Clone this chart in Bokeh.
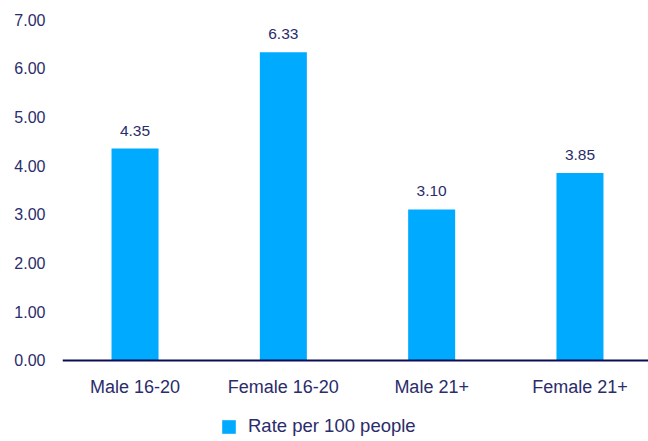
from bokeh.plotting import figure
from bokeh.models import (ColumnDataSource, Range1d, FixedTicker, Legend,
                          LegendItem, LabelSet, Span, CustomJSTickFormatter)
from bokeh.core.properties import value
from bokeh.embed import file_html
from bokeh.resources import INLINE

# Data
categories = ["Male 16-20", "Female 16-20", "Male 21+", "Female 21+"]
rates = [4.35, 6.33, 3.10, 3.85]
y_ticks = [0, 1, 2, 3, 4, 5, 6, 7]
series_name = "Rate per 100 people"

TEXT = "#2b2c6b"
BAR = "#00aaff"
AXIS = "#0c0c55"
FONT = "Liberation Sans"

positions = list(range(len(categories)))
source = ColumnDataSource(dict(
    x=positions,
    top=rates,
    zero=[0] * len(rates),
    label=[f"{v:.2f}" for v in rates],
    cat=categories,
))

# The frame runs down to the bottom edge so the category names and the
# legend can sit below the zero line inside it.
p = figure(
    width=648, height=441,
    output_backend="svg", toolbar_location=None,
    x_range=Range1d(-0.489, 3.462), y_range=Range1d(-1.663, 7),
    min_border_left=62, min_border_right=0,
    min_border_top=19, min_border_bottom=0,
)
p.outline_line_color = None
p.background_fill_color = "white"
p.border_fill_color = "white"
p.grid.visible = False
p.xaxis.visible = False

bars = p.vbar(x="x", top="top", bottom=0, width=0.317, source=source,
              fill_color=BAR, line_color=None)

# zero line
p.add_layout(Span(location=0, dimension="width", line_color=AXIS,
                  line_width=2))

# value labels above the bars
p.add_layout(LabelSet(x="x", y="top", text="label", source=source,
                      text_align="center", text_baseline="middle",
                      y_offset=18, text_font=value(FONT),
                      text_font_size=value("15.5px"), text_color=TEXT))

# category names under the zero line
p.add_layout(LabelSet(x="x", y="zero", text="cat", source=source,
                      text_align="center", text_baseline="middle",
                      y_offset=-27, text_font=value(FONT),
                      text_font_size=value("18px"), text_color=TEXT))

# y axis: labels only
p.yaxis.ticker = FixedTicker(ticks=y_ticks)
p.yaxis.formatter = CustomJSTickFormatter(code="return tick.toFixed(2);")
p.yaxis.axis_line_color = None
p.yaxis.major_tick_line_color = None
p.yaxis.minor_tick_line_color = None
p.yaxis.major_tick_out = 0
p.yaxis.major_label_standoff = 17
p.yaxis.major_label_text_font = FONT
p.yaxis.major_label_text_font_size = "16px"
p.yaxis.major_label_text_color = TEXT

legend = Legend(
    items=[LegendItem(label=series_name, renderers=[bars])],
    location=(158, 4),
    orientation="horizontal",
    padding=0, margin=0, spacing=0,
    glyph_width=17, glyph_height=17,
    label_standoff=11, label_height=17,
    label_text_font=FONT, label_text_font_size="18.5px",
    label_text_color=TEXT, label_text_baseline="middle",
    border_line_color=None, background_fill_alpha=0,
)
p.add_layout(legend)

open("out.html", "w").write(file_html(p, INLINE))
